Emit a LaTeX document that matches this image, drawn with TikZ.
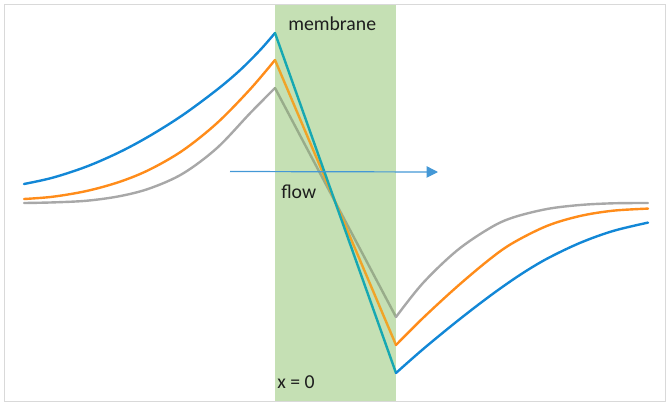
\documentclass[tikz,border=0pt]{standalone}
\usepackage{fontspec}
\setmainfont{Carlito}
\usetikzlibrary{arrows.meta}

\definecolor{membranegreen}{RGB}{197,224,180}
\definecolor{framegray}{RGB}{217,217,217}
\definecolor{curveblue}{RGB}{18,135,214}
\definecolor{curveorange}{RGB}{255,140,26}
\definecolor{curvegray}{RGB}{168,168,168}
\definecolor{innerblue}{RGB}{22,168,178}
\definecolor{innerorange}{RGB}{240,164,40}
\definecolor{innergray}{RGB}{152,172,138}
\definecolor{flowblue}{RGB}{68,152,214}
\definecolor{textdark}{RGB}{30,30,30}

\begin{document}
\begin{tikzpicture}[x=0.75pt,y=0.75pt,yscale=-1,xscale=1,
  curveline/.style={line width=1.8pt, line join=round, line cap=round},
  tagtext/.style={anchor=base west, inner sep=0pt, text=textdark, font=\fontsize{14.8}{18}\selectfont}]
\useasboundingbox (0,0) rectangle (669,404);

%Shape: Rectangle
\fill [membranegreen] (275,5) rectangle (396,400.5);
%Shape: Frame
\draw [framegray, line width=1pt] (4.5,4.5) rectangle (665.5,401.5);

% peaks and troughs at the membrane faces
\coordinate (bluetop) at (275,33);
\coordinate (orangetop) at (275,60);
\coordinate (graytop) at (275,88);
\coordinate (bluebot) at (396,373);
\coordinate (orangebot) at (396,345);
\coordinate (graybot) at (396,317);

%Curve Lines
\draw [curveline, curveblue] plot [smooth, tension=0.55] coordinates {(24,184) (53,177.6) (87,166.4) (120,151.9) (150,135.7) (183,114.9) (217,89.7) (240,70.2) (260,50.2) (275,33)};
\draw [curveline, curveorange] plot [smooth, tension=0.55] coordinates {(24,199) (53,196.7) (87,190.9) (120,181.7) (150,169.4) (183,150.3) (217,123.1) (250,89.4) (275,60)};
\draw [curveline, curvegray] plot [smooth, tension=0.55] coordinates {(24,203) (53,202.4) (87,200.7) (120,196.1) (150,188.3) (183,173.5) (217,148) (250,113.3) (275,88)};

%Straight Lines
\draw [curveline, innergray] (graytop) -- (graybot);
\draw [curveline, innerorange] (orangetop) -- (orangebot);
\draw [curveline, innerblue] (bluetop) -- (bluebot);

%Curve Lines
\draw [curveline, curvegray] plot [smooth, tension=0.55] coordinates {(396,317) (423,283) (457,250.5) (490,228) (513,217.5) (547,209) (580,205) (613,203.3) (648,203)};
\draw [curveline, curveorange] plot [smooth, tension=0.55] coordinates {(396,345) (423,318) (457,286.7) (490,259) (513,242.9) (547,225.9) (580,216) (613,210.7) (648,208.6)};
\draw [curveline, curveblue] plot [smooth, tension=0.55] coordinates {(396,373) (423,349.2) (457,321.3) (490,295.9) (520,274.9) (547,258.7) (580,242.9) (613,231) (648,222.6)};

%Straight Lines
\coordinate (flowstart) at (230,171.5);
\coordinate (flowend) at (438,172);
\draw [flowblue, line width=0.9pt, -{Triangle[length=8.5pt,width=8.5pt]}] (flowstart) -- (flowend);

% Text Node
\node [tagtext] (membranetag) at (288,30) {membrane};
% Text Node
\node [tagtext] (flowtag) at (281,198) {flow};
% Text Node
\node [tagtext] (origintag) at (277,388) {x = 0};

\end{tikzpicture}
\end{document}
